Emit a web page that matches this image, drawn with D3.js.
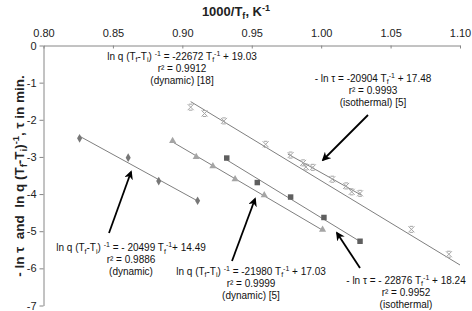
<!DOCTYPE html>
<html>
<head>
<meta charset="utf-8">
<script src="https://cdn.jsdelivr.net/npm/d3@7"></script>
<style>
  body { margin: 0; background: #fff; }
  svg { font-family: "Liberation Sans", Arial, sans-serif; }
</style>
</head>
<body>
<div id="chart"></div>
<script>
// Axis ticks
const xTicks = [0.80, 0.85, 0.90, 0.95, 1.00, 1.05, 1.10];
const yTicks = [0, -1, -2, -3, -4, -5, -6, -7];

// Series (x = 1000/Tf, y = ln value)
const dynDiamondX = [0.826, 0.861, 0.883, 0.911];
const dynDiamondY = [-2.50, -3.02, -3.65, -4.18];

const dyn18X = [0.906, 0.916, 0.930, 0.960, 1.065, 1.092];
const dyn18Y = [-1.66, -1.83, -2.03, -2.66, -4.95, -5.62];

const dyn5X = [0.893, 0.910, 0.922, 0.938, 0.959, 1.001];
const dyn5Y = [-2.57, -3.00, -3.25, -3.60, -4.03, -4.96];

const isoSquareX = [0.932, 0.954, 0.978, 1.002, 1.028];
const isoSquareY = [-3.03, -3.69, -4.08, -4.63, -5.27];

const iso5X = [0.978, 0.987, 0.989, 0.994, 1.008, 1.018, 1.022, 1.028];
const iso5Y = [-2.95, -3.16, -3.27, -3.28, -3.60, -3.78, -3.94, -3.98];

// Trend lines: y = slope * (x / 1000) + intercept, as printed on the chart
const fitSlopes = [-20499, -22672, -21980, -22876, -20904];
const fitIntercepts = [14.49, 19.03, 17.03, 18.24, 17.48];
const fitFrom = [0.826, 0.906, 0.893, 0.932, 0.976];
const fitTo = [0.911, 1.100, 1.001, 1.028, 1.029];

// Equation labels
const labelLines = [
  ["ln q (T_{f}-T_{i}) ^{-1} = - 20499 T_{f}^{-1}+ 14.49", "r² = 0.9886", "(dynamic)"],
  ["ln q (T_{f}-T_{i}) ^{-1} = -22672 T_{f}^{-1} + 19.03", "r² = 0.9912", "(dynamic) [18]"],
  ["ln q (T_{f}-T_{i}) ^{-1} = -21980 T_{f}^{-1} + 17.03", "r² = 0.9999", "(dynamic) [5]"],
  ["- ln τ = - 22876 T_{f}^{-1} + 18.24", "r² = 0.9952", "(isothermal)"],
  ["- ln τ = -20904 T_{f}^{-1} + 17.48", "r² = 0.9993", "(isothermal) [5]"]
];

const width = 472;
const height = 311;

const svg = d3.select("#chart")
    .append("svg")
    .attr("width", width)
    .attr("height", height);

const x = d3.scaleLinear().domain([0.8, 1.1]).range([43.5, 460]);
const y = d3.scaleLinear().domain([0, -7]).range([45.5, 305.5]);

// arrow head
svg.append("defs").append("marker")
    .attr("id", "arrow")
    .attr("viewBox", "0 0 10 10")
    .attr("refX", 8)
    .attr("refY", 5)
    .attr("markerWidth", 5)
    .attr("markerHeight", 5)
    .attr("orient", "auto")
    .append("path")
    .attr("d", "M0,0 L10,5 L0,10 L3,5 Z")
    .attr("fill", "#000");

// write text with _{sub} and ^{sup} pieces
function richText(textSel, str, size) {
    const parts = str.split(/(_\{[^}]*\}|\^\{[^}]*\})/).filter(s => s.length);
    let shift = 0;
    parts.forEach(p => {
        let target = 0, fs = size, txt = p;
        if (p.startsWith("_{")) { target = size * 0.25; fs = size * 0.7; txt = p.slice(2, -1); }
        else if (p.startsWith("^{")) { target = -size * 0.4; fs = size * 0.7; txt = p.slice(2, -1); }
        textSel.append("tspan")
            .attr("dy", target - shift)
            .attr("font-size", fs)
            .text(txt);
        shift = target;
    });
}

// Axes
const xAxis = svg.append("g")
    .attr("transform", `translate(0,${y(0)})`)
    .call(d3.axisTop(x)
        .tickValues(xTicks)
        .tickFormat(d3.format(".2f"))
        .tickSizeInner(-3)
        .tickSizeOuter(0)
        .tickPadding(9));

const yAxis = svg.append("g")
    .attr("transform", `translate(${x(0.8)},0)`)
    .call(d3.axisLeft(y)
        .tickValues(yTicks)
        .tickFormat(d => String(d))
        .tickSize(4)
        .tickSizeOuter(0)
        .tickPadding(3));

[xAxis, yAxis].forEach(a => {
    a.select(".domain").attr("stroke", "#868686");
    a.selectAll(".tick line").attr("stroke", "#868686");
    a.selectAll(".tick text")
        .attr("font-size", 11)
        .attr("font-family", "Liberation Sans, Arial, sans-serif")
        .attr("fill", "#222");
});

// Axis titles
const xTitle = svg.append("text")
    .attr("x", 236)
    .attr("y", 16)
    .attr("text-anchor", "middle")
    .attr("font-weight", "bold")
    .attr("fill", "#222");
richText(xTitle, "1000/T_{f}, K^{-1}", 13);

const yTitle = svg.append("text")
    .attr("transform", `translate(24,176) rotate(-90)`)
    .attr("text-anchor", "middle")
    .attr("font-weight", "bold")
    .attr("fill", "#222")
    .style("white-space", "pre");
richText(yTitle, "- ln τ  and  ln q (T_{f}-T_{i})^{-1}, τ in min.", 13.5);

// Trend lines
const line = d3.line().x(d => x(d[0])).y(d => y(d[1]));
fitSlopes.forEach((s, i) => {
    const pts = [fitFrom[i], fitTo[i]].map(v => [v, s * v / 1000 + fitIntercepts[i]]);
    svg.append("path")
        .attr("d", line(pts))
        .attr("fill", "none")
        .attr("stroke", "#7f7f7f")
        .attr("stroke-width", 1);
});

// Markers
function drawSymbol(xs, ys, type, size, color) {
    svg.append("g").selectAll("path")
        .data(xs.map((v, i) => [v, ys[i]]))
        .join("path")
        .attr("transform", d => `translate(${x(d[0])},${y(d[1])})`)
        .attr("d", d3.symbol().type(type).size(size))
        .attr("fill", color);
}

const xMark = "M-3,-3 L3,3 M-3,3 L3,-3 M-1.8,-3 L1.8,-3 M-1.8,3 L1.8,3";
function drawCross(xs, ys, color) {
    svg.append("g").selectAll("path")
        .data(xs.map((v, i) => [v, ys[i]]))
        .join("path")
        .attr("transform", d => `translate(${x(d[0])},${y(d[1])})`)
        .attr("d", xMark)
        .attr("fill", "none")
        .attr("stroke", color)
        .attr("stroke-width", 1);
}

drawSymbol(dynDiamondX, dynDiamondY, d3.symbolDiamond, 22, "#777");
drawSymbol(dyn5X, dyn5Y, d3.symbolTriangle, 22, "#a5a5a5");
drawSymbol(isoSquareX, isoSquareY, d3.symbolSquare, 30, "#5f5f5f");
drawCross(dyn18X, dyn18Y, "#a5a5a5");
drawCross(iso5X, iso5Y, "#a5a5a5");

// Labels and arrows
const labelPos = [[131, 251], [182, 59.5], [251, 274.5], [406, 283.5], [373, 81.5]];
labelLines.forEach((rows, i) => {
    rows.forEach((r, j) => {
        const t = svg.append("text")
            .attr("x", labelPos[i][0])
            .attr("y", labelPos[i][1] + j * 12)
            .attr("text-anchor", "middle")
            .attr("font-size", 10)
            .attr("fill", "#111");
        richText(t, r, 10);
    });
});

const arrows = [[109, 233, 131, 172], [232, 261, 255, 199], [360, 268, 337, 233], [368, 115, 323, 160]];
arrows.forEach(a => {
    svg.append("line")
        .attr("x1", a[0]).attr("y1", a[1])
        .attr("x2", a[2]).attr("y2", a[3])
        .attr("stroke", "#000")
        .attr("stroke-width", 1.8)
        .attr("marker-end", "url(#arrow)");
});
</script>
</body>
</html>
